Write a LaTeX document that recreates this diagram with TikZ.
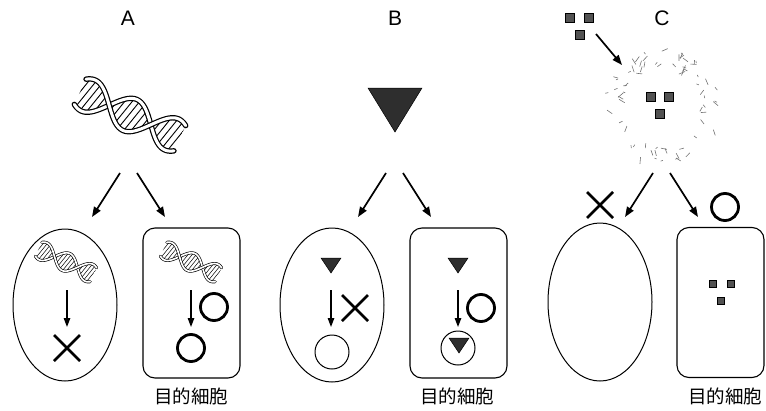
\documentclass[tikz,border=0pt]{standalone}
\usepackage{fontspec}
\setmainfont{Liberation Sans}
\newfontfamily\jpfont{Noto Sans CJK JP}
\usetikzlibrary{arrows.meta,shapes.geometric}

\tikzset{
  cellE/.style={draw, line width=1pt, ellipse, minimum width=104pt, minimum height=152pt, inner sep=0pt},
  cellR/.style={draw, line width=1.1pt, rounded corners=12pt, minimum width=97pt, minimum height=150pt, inner sep=0pt},
  arr/.style={line width=1.7pt, -{Triangle[length=10pt,width=7.5pt]}},
  inarr/.style={line width=1.3pt, -{Triangle[length=9pt,width=6.5pt]}},
  heading/.style={font=\fontsize{21}{21}\selectfont},
  cjk/.style={font=\jpfont\fontsize{18.5}{18.5}\selectfont},
  thickline/.style={line width=2.8pt},
  thinring/.style={line width=1pt},
  vec/.style={fill=black!82, draw=black, line width=0.5pt},
  sq/.style={fill=black!68, draw=black, line width=0.7pt, minimum size=8.5pt, inner sep=0pt},
  frag/.style={black!55, line width=0.6pt},
}

% double helix: centre x, centre y, scale
\newcommand\helix[3]{%
  \begin{scope}[shift={(#1,#2)}, rotate=-25, scale=#3]
    \pgfmathsetmacro\hwo{5.4*#3}
    \pgfmathsetmacro\hwi{3.0*#3}
    \pgfmathsetmacro\hwh{max(0.9*#3,0.5)}
    \begin{scope}
      \clip plot[domain=-55:55, samples=60] (\x,{17*sin((\x+23)*180/46)})
        -- plot[domain=55:-55, samples=60] (\x,{-17*sin((\x+23)*180/46)}) -- cycle;
      \foreach \h in {-72,-66,...,60} \draw[line width=\hwh pt] (\h,20) -- (\h+10,-20);
    \end{scope}
    \foreach \sgn in {-1,1} {
      \draw[line width=\hwo pt, line cap=round] plot[domain=-55:55, samples=60] (\x,{\sgn*17*sin((\x+23)*180/46)});
      \draw[white, line width=\hwi pt, line cap=round] plot[domain=-55:55, samples=60] (\x,{\sgn*17*sin((\x+23)*180/46)});
    }
  \end{scope}}

% heavy cross symbol
\newcommand\nogo[2]{%
  \draw[thickline] (#1-13,#2-13) -- (#1+13,#2+13) (#1-13,#2+13) -- (#1+13,#2-13);}

% downward triangle: centre x, top y, half width, height
\newcommand\vtri[4]{%
  \filldraw[vec] (#1-#3,#2) -- (#1+#3,#2) -- (#1,#2+#4) -- cycle;}

\begin{document}
\begin{tikzpicture}[x=1pt, y=-1pt]
\useasboundingbox (0,0) rectangle (766,410);

% headings
\node[heading] (hA) at (128,18) {A};
\node[heading] (hB) at (395,18) {B};
\node[heading] (hC) at (662,18) {C};

% ---------------- A ----------------
\helix{130}{115}{1}
\coordinate (a0l) at (120,173); \coordinate (a1l) at (92,217);
\coordinate (a0r) at (137,173); \coordinate (a1r) at (165,217);
\draw[arr] (a0l) -- (a1l);
\draw[arr] (a0r) -- (a1r);

\node[cellE] (cA1) at (65,305) {};
\node[cellR, minimum width=97pt] (cA2) at (191.5,303) {};
\node[cjk] (tA) at (191,396) {目的細胞};

\helix{66}{262}{0.55}
\coordinate (ia0) at (67,290); \coordinate (ia1) at (67,327);
\draw[inarr] (ia0) -- (ia1);
\nogo{67}{348}

\helix{191}{262}{0.55}
\coordinate (ib0) at (191,290); \coordinate (ib1) at (191,327);
\draw[inarr] (ib0) -- (ib1);
\draw[thickline] (214,307) circle (13.5pt);
\draw[thickline] (191,348) circle (13.5pt);

% ---------------- B ----------------
\vtri{395}{88}{27}{44}
\coordinate (b0l) at (386,173); \coordinate (b1l) at (358,217);
\coordinate (b0r) at (403,173); \coordinate (b1r) at (431,217);
\draw[arr] (b0l) -- (b1l);
\draw[arr] (b0r) -- (b1r);

\node[cellE, minimum height=154pt] (cB1) at (332,305) {};
\node[cellR] (cB2) at (458.5,303) {};
\node[cjk] (tB) at (457,396) {目的細胞};

\vtri{331}{258}{10}{15}
\coordinate (ic0) at (331,290); \coordinate (ic1) at (331,327);
\draw[inarr] (ic0) -- (ic1);
\nogo{355}{308}
\draw[thinring] (332,352) circle (17pt);

\vtri{458}{258}{10}{15}
\coordinate (id0) at (458,290); \coordinate (id1) at (458,327);
\draw[inarr] (id0) -- (id1);
\draw[thickline] (481,308) circle (13.5pt);
\draw[thinring] (458,348) circle (17pt);
\vtri{459}{338}{10}{15}

% ---------------- C ----------------
\node[sq] (s1) at (570,18) {};
\node[sq] (s2) at (589,18) {};
\node[sq] (s3) at (580,35) {};
\coordinate (c0) at (596,34); \coordinate (c1) at (622,65);
\draw[arr] (c0) -- (c1);

% broken membrane
\pgfmathsetseed{17}
\foreach \i in {1,...,70} {
  \pgfmathsetmacro\aa{rnd*360}
  \pgfmathsetmacro\rr{40+rnd*17}
  \pgfmathsetmacro\tt{rnd*180}
  \pgfmathsetmacro\ll{2+rnd*5}
  \draw[frag, shift={(662,105)}] (\aa:\rr) -- ++(\tt:\ll);
}
\node[sq] (m1) at (651,97) {};
\node[sq] (m2) at (669,97) {};
\node[sq] (m3) at (660,114) {};

\coordinate (c0l) at (653,173); \coordinate (c1l) at (625,217);
\coordinate (c0r) at (670,173); \coordinate (c1r) at (698,217);
\draw[arr] (c0l) -- (c1l);
\draw[arr] (c0r) -- (c1r);
\nogo{600}{205}
\draw[thickline] (725,207) circle (13.5pt);

\node[cellE, minimum height=158pt] (cC1) at (600,302) {};
\node[cellR, minimum width=87pt] (cC2) at (720.5,302.5) {};
\node[cjk] (tC) at (725,396) {目的細胞};

\node[sq, minimum size=7pt] (r1) at (713,284) {};
\node[sq, minimum size=7pt] (r2) at (731,284) {};
\node[sq, minimum size=7pt] (r3) at (721,301) {};

\end{tikzpicture}
\end{document}
